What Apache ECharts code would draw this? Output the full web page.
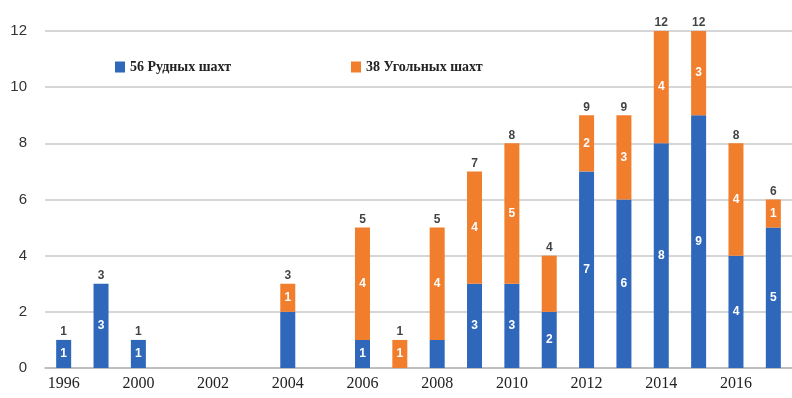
<!DOCTYPE html>
<html><head><meta charset="utf-8">
<script src="https://cdn.jsdelivr.net/npm/echarts@6/dist/echarts.min.js"></script>
<style>html,body{margin:0;padding:0;background:#fff}#c{width:792px;height:398px}</style>
</head><body><div id="c"></div>
<script>
const years = ['1996','1998','2000','2001','2002','2003','2004','2005','2006','2007','2008','2009','2010','2011','2012','2013','2014','2015','2016','2017'];
const oreMines  = [1,3,1,0,0,0,2,0,1,0,1,3,3,2,7,6,8,9,4,5];
const coalMines = [0,0,0,0,0,0,1,0,4,1,4,4,5,2,2,3,4,3,4,1];
const seriesNames = ['56 Рудных шахт','38 Угольных шахт'];
const yTicks = [0,2,4,6,8,10,12];
// segments whose inner labels are not printed in the original
const hiddenOre = ['2004','2008'];
const hiddenCoal = ['2011'];

const totals = years.map((y,i)=>oreMines[i]+coalMines[i]);
const BLUE='#2F67BA', ORANGE='#F07E2C';
const innerLabel = {show:true, position:'inside', color:'#fff', fontWeight:'bold', fontSize:12, fontFamily:'Liberation Sans'};
function mk(vals, hidden){
  return vals.map((v,i)=>({value:v, label:{show: v>0 && hidden.indexOf(years[i])<0}}));
}
const chart = echarts.init(document.getElementById('c'), null, {renderer:'canvas'});
chart.setOption({
  animation:false,
  grid:{left:45, top:31, width:749, bottom:30, containLabel:false},
  legend:[
    {data:[seriesNames[0]], left:110, top:55, icon:'rect', itemWidth:10, itemHeight:11, itemGap:8,
     textStyle:{fontFamily:'Liberation Serif', fontWeight:'bold', fontSize:14, color:'#222'}},
    {data:[seriesNames[1]], left:346, top:55, icon:'rect', itemWidth:10, itemHeight:11, itemGap:8,
     textStyle:{fontFamily:'Liberation Serif', fontWeight:'bold', fontSize:14, color:'#222'}}
  ],
  xAxis:{type:'category', data:years,
    axisTick:{show:false},
    axisLine:{lineStyle:{color:'#b8b8b8', width:1.5}},
    axisLabel:{interval:1, fontFamily:'Liberation Serif', fontSize:16, color:'#222', margin:8}},
  yAxis:{type:'value', min:yTicks[0], max:yTicks[yTicks.length-1], interval:2,
    axisLine:{show:false}, axisTick:{show:false},
    splitLine:{lineStyle:{color:'#c8c8c8', width:1.5}},
    axisLabel:{fontFamily:'Liberation Sans', fontSize:15, color:'#333', margin:18}},
  series:[
    {name:seriesNames[0], type:'bar', stack:'a', barWidth:15, itemStyle:{color:BLUE},
     label:innerLabel, data:mk(oreMines, hiddenOre)},
    {name:seriesNames[1], type:'bar', stack:'a', barWidth:15, itemStyle:{color:ORANGE},
     label:innerLabel, data:mk(coalMines, hiddenCoal)},
    {name:'total', type:'scatter', symbolSize:0, silent:true,
     data:totals.map(t=>({value:t, label:{show:t>0}})),
     label:{show:true, position:'top', distance:2, color:'#111', fontWeight:'bold', fontSize:12, fontFamily:'Liberation Sans',
       formatter:p=>p.value}}
  ]
});
</script></body></html>
